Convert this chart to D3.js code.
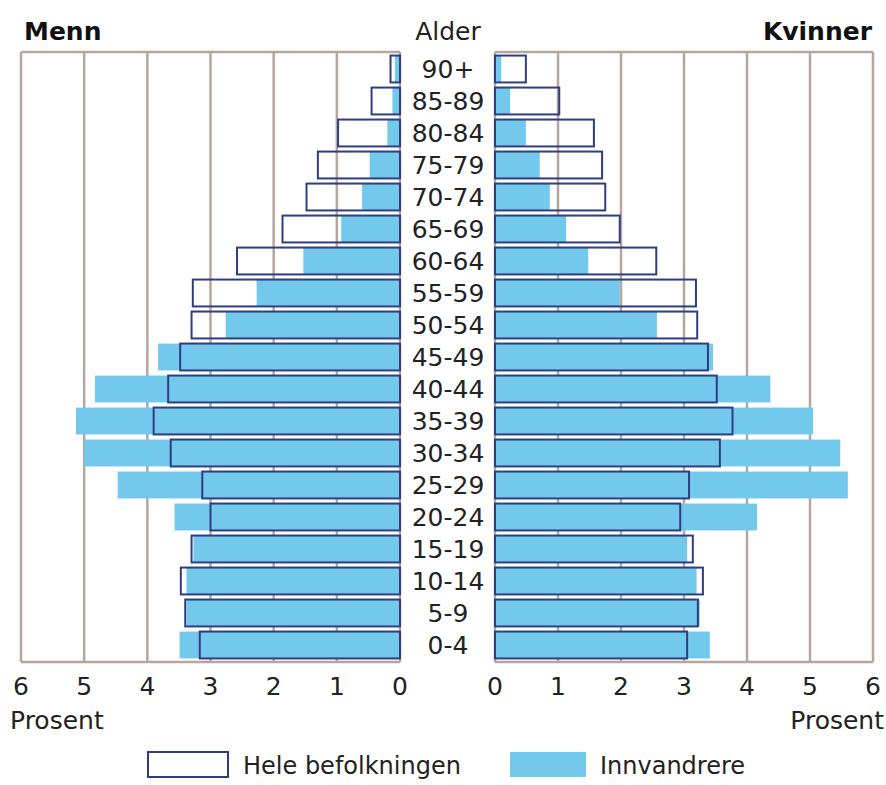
<!DOCTYPE html>
<meta charset="utf-8">
<body style="margin:0;background:#fff">
<script src="https://d3js.org/d3.v7.min.js"></script>
<script>
// age groups, youngest first
var ages = ["0-4","5-9","10-14","15-19","20-24","25-29","30-34","35-39","40-44","45-49",
            "50-54","55-59","60-64","65-69","70-74","75-79","80-84","85-89","90+"];
// percent, hele befolkningen
var menTotal   = [3.17,3.40,3.47,3.30,3.00,3.13,3.63,3.90,3.67,3.48,3.30,3.28,2.58,1.86,1.48,1.30,0.98,0.45,0.15];
var womenTotal = [3.05,3.22,3.30,3.14,2.94,3.08,3.57,3.77,3.52,3.38,3.21,3.19,2.56,1.98,1.75,1.70,1.57,1.02,0.49];
// percent, innvandrere
var menImm     = [3.49,3.38,3.38,3.27,3.57,4.47,5.00,5.13,4.83,3.83,2.76,2.27,1.53,0.93,0.60,0.48,0.20,0.12,0.08];
var womenImm   = [3.41,3.25,3.20,3.05,4.16,5.60,5.48,5.05,4.37,3.46,2.57,1.98,1.48,1.13,0.87,0.71,0.49,0.24,0.10];
var ticks = [0,1,2,3,4,5,6];

var width = 886, height = 785;
var font = "'DejaVu Sans', sans-serif";
var blue = "#72c9eb", navy = "#2f3d80", gridCol = "#b7a69e";

var svg = d3.select("body").append("svg")
    .attr("width", width).attr("height", height)
    .style("font-family", font);

var xL = d3.scaleLinear().domain([0, 6]).range([400, 21]);
var xR = d3.scaleLinear().domain([0, 6]).range([495, 873]);
var y = d3.scaleBand().domain(ages.slice().reverse()).range([53, 661]).paddingInner(0.16).paddingOuter(0.08);

var gridTop = 52, gridBottom = 662;

// grid
[xL, xR].forEach(function(x) {
  svg.append("g").selectAll("line").data(ticks).enter().append("line")
    .attr("x1", d => x(d)).attr("x2", d => x(d))
    .attr("y1", gridTop).attr("y2", gridBottom)
    .attr("stroke", gridCol).attr("stroke-width", 2.5);
  svg.append("line").attr("x1", x(0)).attr("x2", x(6)).attr("y1", gridTop).attr("y2", gridTop)
    .attr("stroke", gridCol).attr("stroke-width", 2.5);
  svg.append("line").attr("x1", x(0)).attr("x2", x(6)).attr("y1", gridBottom).attr("y2", gridBottom)
    .attr("stroke", gridCol).attr("stroke-width", 2.5);
});

function drawSide(x, imm, tot, left) {
  var g = svg.append("g");
  g.selectAll("rect.imm").data(ages).enter().append("rect")
    .attr("class", "imm")
    .attr("x", (d, i) => left ? x(imm[i]) : x(0))
    .attr("width", (d, i) => Math.abs(x(imm[i]) - x(0)))
    .attr("y", d => y(d)).attr("height", y.bandwidth())
    .attr("fill", blue);
  g.selectAll("rect.tot").data(ages).enter().append("rect")
    .attr("class", "tot")
    .attr("x", (d, i) => left ? x(tot[i]) : x(0))
    .attr("width", (d, i) => Math.abs(x(tot[i]) - x(0)))
    .attr("y", d => y(d)).attr("height", y.bandwidth())
    .attr("fill", "none").attr("stroke", navy).attr("stroke-width", 2);
}
drawSide(xL, menImm, menTotal, true);
drawSide(xR, womenImm, womenTotal, false);

// age labels
svg.append("g").selectAll("text").data(ages).enter().append("text")
  .attr("x", 448).attr("y", d => y(d) + y.bandwidth() / 2)
  .attr("dy", "0.36em").attr("text-anchor", "middle")
  .attr("font-size", 25).attr("fill", "#222")
  .text(d => d);

// tick labels
[xL, xR].forEach(function(x) {
  svg.append("g").selectAll("text").data(ticks).enter().append("text")
    .attr("x", d => x(d)).attr("y", 686).attr("dy", "0.36em")
    .attr("text-anchor", "middle").attr("font-size", 25).attr("fill", "#222")
    .text(d => d);
});

svg.append("text").attr("x", 24).attr("y", 40).attr("font-size", 25).attr("font-weight", "bold")
  .attr("fill", "#111").text("Menn");
svg.append("text").attr("x", 872).attr("y", 40).attr("font-size", 25).attr("font-weight", "bold")
  .attr("text-anchor", "end").attr("fill", "#111").text("Kvinner");
svg.append("text").attr("x", 448).attr("y", 40).attr("font-size", 25)
  .attr("text-anchor", "middle").attr("fill", "#222").text("Alder");
svg.append("text").attr("x", 10).attr("y", 729).attr("font-size", 25).attr("fill", "#222").text("Prosent");
svg.append("text").attr("x", 884).attr("y", 729).attr("font-size", 25)
  .attr("text-anchor", "end").attr("fill", "#222").text("Prosent");

// legend
var leg = svg.append("g");
leg.append("rect").attr("x", 148).attr("y", 752).attr("width", 80).attr("height", 25)
  .attr("fill", "none").attr("stroke", navy).attr("stroke-width", 2);
leg.append("text").attr("x", 243).attr("y", 765).attr("dy", "0.36em").attr("font-size", 24)
  .attr("fill", "#222").text("Hele befolkningen");
leg.append("rect").attr("x", 510).attr("y", 752).attr("width", 76).attr("height", 25)
  .attr("fill", blue);
leg.append("text").attr("x", 600).attr("y", 765).attr("dy", "0.36em").attr("font-size", 24)
  .attr("fill", "#222").text("Innvandrere");
</script>
</body>
